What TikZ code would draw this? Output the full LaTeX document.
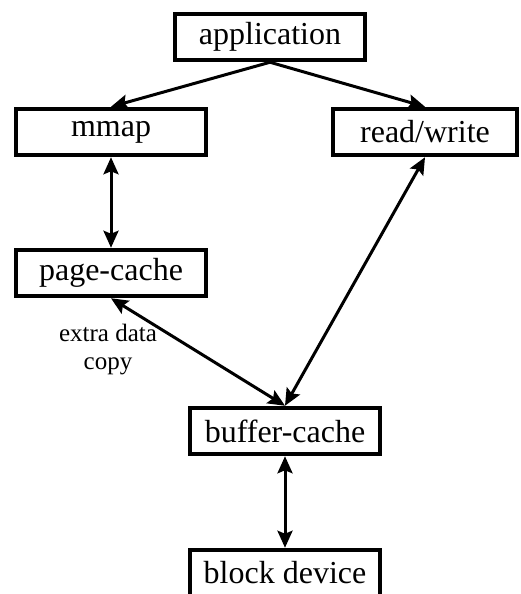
\documentclass[tikz,border=0pt]{standalone}
\usepackage{fontspec}
\setmainfont{Liberation Serif}
\usetikzlibrary{arrows.meta}

\begin{document}
\begin{tikzpicture}[
        x=1pt, y=-1pt,
        box/.style={rectangle, draw, line width=4.5pt, minimum width=190pt, minimum height=46pt, inner sep=0pt, text centered, font=\fontsize{32}{36}\selectfont},
        link/.style={line width=3pt, -{Stealth[length=17pt, width=15pt, inset=3pt]}},
        both/.style={line width=3pt, {Stealth[length=17pt, width=15pt, inset=3pt]}-{Stealth[length=17pt, width=15pt, inset=3pt]}},
        note/.style={align=center, font=\fontsize{25}{28}\selectfont}
    ]
        \clip (0,0) rectangle (520,594);

        % Top: the application and its two ways into the file
        \node[box] (app) at (270,37) {application};
        \node[box] (mmap) at (111,132) {mmap};
        \node[box, minimum width=184pt] (readwrite) at (425,132) {read/write};
        \draw[link] (app.south) -- (mmap.north);
        \draw[link] (app.south) -- (readwrite.north);

        % Caches
        \node[box] (page_cache) at (111,273) {page-cache};
        \node[box] (buffer_cache) at (285,431) {buffer-cache};
        \draw[both] (mmap.south) -- (page_cache.north);
        \draw[both] (readwrite.south) -- (buffer_cache.north);
        \draw[both] (page_cache.south) -- (buffer_cache.north);
        \node[note] (copy_label) at (108,350) {extra data\\copy};

        % Bottom: the device
        \node[box] (block_dev) at (285,573) {block device};
        \draw[both] (buffer_cache.south) -- (block_dev.north);

    \end{tikzpicture}
\end{document}
